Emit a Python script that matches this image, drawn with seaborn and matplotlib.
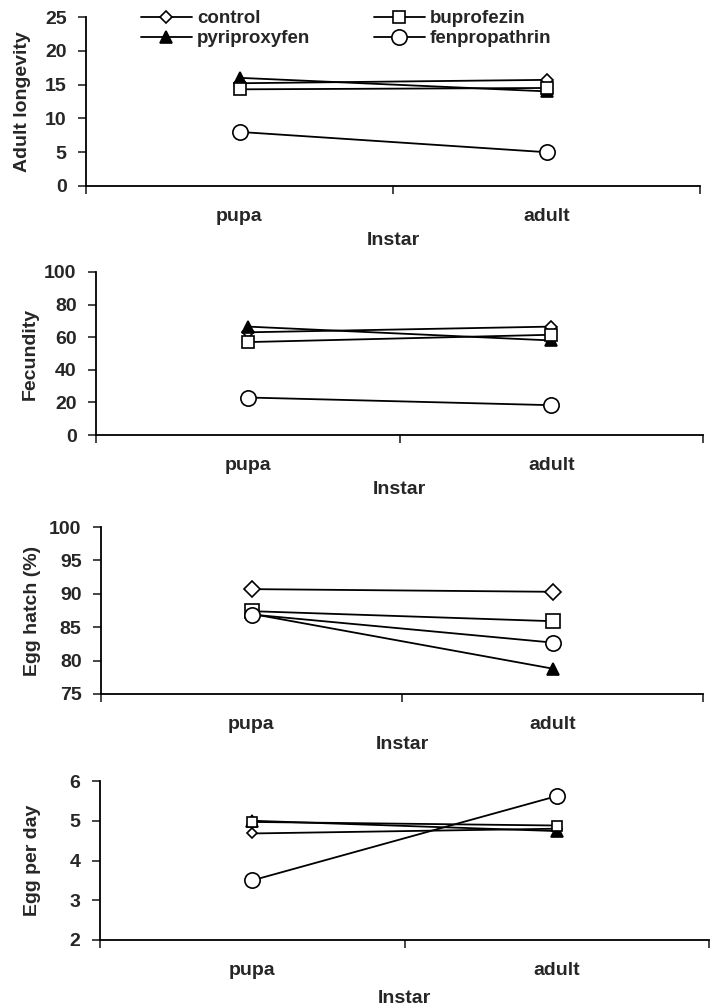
import matplotlib
matplotlib.use("Agg")
import matplotlib.pyplot as plt
import seaborn as sns
import pandas as pd

sns.set_style("ticks")
plt.rcParams['font.family'] = ['Liberation Sans', 'DejaVu Sans']
plt.rcParams['font.weight'] = 'bold'
plt.rcParams['axes.labelweight'] = 'bold'

# data
instars = ['pupa', 'adult']
treatments = ['control', 'pyriproxyfen', 'buprofezin', 'fenpropathrin']

longevity = {'control': [15.2, 15.7], 'buprofezin': [14.3, 14.5],
             'pyriproxyfen': [16.0, 14.0], 'fenpropathrin': [8.0, 5.0]}
fecundity = {'control': [63, 66.5], 'buprofezin': [57, 61.5],
             'pyriproxyfen': [66.5, 58], 'fenpropathrin': [23, 18.3]}
egg_hatch = {'control': [90.7, 90.3], 'buprofezin': [87.4, 85.9],
             'pyriproxyfen': [87.0, 78.8], 'fenpropathrin': [86.9, 82.7]}
egg_per_day = {'control': [4.68, 4.80], 'buprofezin': [4.97, 4.88],
               'pyriproxyfen': [5.0, 4.74], 'fenpropathrin': [3.5, 5.62]}

panels = [
    ('Adult longevity', longevity, (0, 25), 5),
    ('Fecundity', fecundity, (0, 100), 20),
    ('Egg hatch (%)', egg_hatch, (75, 100), 5),
    ('Egg per day', egg_per_day, (2, 6), 1),
]

# marker look per treatment: (marker, size, face)
marker_style = {'control': ('D', 6, 'white'), 'buprofezin': ('s', 8, 'white'),
                'pyriproxyfen': ('^', 8.5, 'black'), 'fenpropathrin': ('o', 11, 'white')}
marker_scale = [1.0, 1.0, 1.3, 0.9]

# axes boxes in pixels: left, right, top, bottom, ylabel centre x, xlabel top offset
W, H = 710, 1007
boxes = [(86, 700, 17, 186, 22, 46), (96, 703, 272, 435, 30, 46),
         (101, 703, 527, 694, 32, 42), (100, 709, 781, 940, 32, 50)]

fig = plt.figure(figsize=(W / 100, H / 100), dpi=100)
FS = 14

for i, (ylab, vals, ylim, step) in enumerate(panels):
    l, r, t, b, ylx, xoff = boxes[i]
    ax = fig.add_axes([l / W, 1 - b / H, (r - l) / W, (b - t) / H])
    rows = []
    for tr in treatments:
        for ins, v in zip(instars, vals[tr]):
            rows.append({'instar': ins, 'treatment': tr, 'value': v})
    df = pd.DataFrame(rows)
    for tr in treatments:
        mk, ms, fc = marker_style[tr]
        if mk != '^' and mk != 'o':
            ms = ms * marker_scale[i]
        sns.lineplot(data=df[df.treatment == tr], x='instar', y='value', ax=ax,
                     color='black', lw=1.3, marker=mk, markersize=ms,
                     markerfacecolor=fc, markeredgecolor='black', markeredgewidth=1.2,
                     label=tr, legend=False)
    ax.set_xlim(-0.5, 1.5)
    ax.set_ylim(*ylim)
    ax.set_yticks(range(ylim[0], ylim[1] + 1, step))
    ax.set_xticks([-0.5, 0.5, 1.5])
    ax.set_xticklabels(['', '', ''])
    ax.set_xticks([0, 1], minor=True)
    ax.set_xticklabels(instars, minor=True)
    ax.tick_params(axis='x', which='minor', length=0, pad=16, labelsize=FS)
    ax.tick_params(axis='x', which='major', length=6, width=1.2, direction='out')
    ax.tick_params(axis='y', length=6, width=1.2, direction='out', labelsize=FS, pad=8)
    for lbl in ax.get_yticklabels() + ax.get_xticklabels(minor=True):
        lbl.set_fontweight('bold')
    sns.despine(ax=ax)
    for s in ['left', 'bottom']:
        ax.spines[s].set_linewidth(1.3)
        ax.spines[s].set_color('black')
    ax.set_ylabel(ylab, fontsize=FS, fontweight='bold')
    ax.yaxis.set_label_coords((ylx + 9 - l) / (r - l), 0.5)
    ax.set_xlabel('Instar', fontsize=FS, fontweight='bold')
    ax.xaxis.set_label_coords(0.5, -xoff / (b - t))

    if i == 0:
        handles, labels = ax.get_legend_handles_labels()
        ax.legend(handles, labels, ncol=2, frameon=False, loc='upper left',
                  bbox_to_anchor=(141 / W, 1 - 10 / H), bbox_transform=fig.transFigure,
                  borderpad=0, borderaxespad=0, handlelength=2.7, handletextpad=0.28,
                  columnspacing=3.4, labelspacing=0.15,
                  prop={'weight': 'bold', 'size': 13.5})

fig.savefig('out.png', dpi=100)
